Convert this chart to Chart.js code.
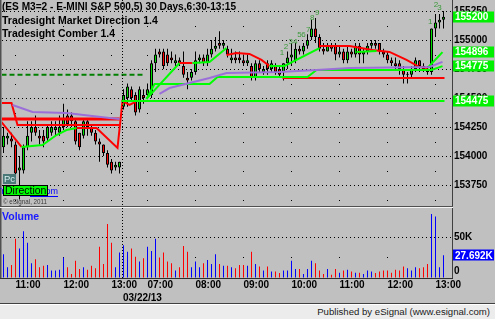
<!DOCTYPE html>
<html>
<head>
<meta charset="utf-8">
<script src="https://cdn.jsdelivr.net/npm/chart.js@4"></script>
<style>
  html, body { margin: 0; padding: 0; background: #c0c0c0; }
  #wrap { position: relative; width: 495px; height: 319px; overflow: hidden; background: #c0c0c0; }
  #price { position: absolute; left: 0; top: 0; }
  #vol { position: absolute; left: 0; top: 208px; }
  .line { position: absolute; left: 0; height: 1px; }
  #status {
    position: absolute; left: 0; top: 305px; width: 495px; height: 14px;
    background: #ececec; color: #222; text-align: right;
    font: 9.6px "Liberation Sans", Arial, sans-serif; line-height: 13px;
  }
  #status span { padding-right: 5px; }
</style>
</head>
<body>
<div id="wrap">
  <canvas id="price" width="495" height="206"></canvas>
  <div class="line" style="top:206px;width:453px;background:#505050"></div>
  <div class="line" style="top:207px;width:453px;background:#f4f4f4"></div>
  <canvas id="vol" width="495" height="95"></canvas>
  <div class="line" style="top:303px;width:495px;background:#404040"></div>
  <div class="line" style="top:304px;width:495px;background:#ffffff"></div>
  <div id="status"><span>Published by eSignal (www.esignal.com)</span></div>
</div>
<script>
// 5 minute bars, index 0 = 10:45 of the previous session, index 30 = 06:30 on 03/22/13
const opens = [
  154075, 154150, 154150, 154100, 153875, 153875, 154075, 154200, 154250, 154175,
  154175, 154150, 154200, 154225, 154200, 154250, 154350, 154350, 154300, 154200,
  154175, 154300, 154250, 154200, 154125, 154100, 154025, 153950, 153900, 153900,
  154425, 154500, 154575, 154525, 154400, 154525, 154525, 154525, 154800, 154900,
  154900, 154875, 154850, 154800, 154825, 154775, 154675, 154675, 154725, 154825,
  154850, 154800, 154875, 154925, 154975, 154950, 154925, 154825, 154850, 154850,
  154825, 154800, 154775, 154675, 154800, 154725, 154800, 154750, 154775, 154750,
  154725, 154800, 154850, 154825, 154925, 154900, 154950, 155025, 155100, 155025,
  154925, 154900, 154950, 154950, 154875, 154900, 154825, 154900, 154875, 154950,
  154875, 154900, 154950, 154975, 154975, 154900, 154875, 154825, 154800, 154800,
  154750, 154700, 154700, 154750, 154825, 154775, 154750, 154725, 155100, 155150,
  155175
];
const highs = [
  154250, 154200, 154200, 154125, 154000, 154100, 154300, 154300, 154350, 154225,
  154225, 154275, 154300, 154300, 154350, 154450, 154400, 154375, 154325, 154200,
  154325, 154325, 154275, 154225, 154150, 154100, 154050, 153975, 153950, 153950,
  154575, 154625, 154600, 154550, 154600, 154575, 154625, 154825, 154925, 154925,
  154925, 154925, 154900, 154875, 154850, 154900, 154725, 154750, 154900, 154875,
  154875, 154925, 155000, 155025, 155075, 155000, 154950, 154925, 154900, 154900,
  154875, 154875, 154800, 154825, 154825, 154775, 154825, 154825, 154800, 154775,
  154800, 154900, 154975, 154975, 154950, 154975, 155050, 155175, 155190, 155050,
  154975, 154975, 154975, 154975, 154950, 154925, 154950, 154925, 154975, 154975,
  154925, 154975, 155000, 155000, 154975, 154925, 154900, 154850, 154850, 154825,
  154775, 154725, 154775, 154850, 154825, 154800, 154775, 155100, 155225, 155225,
  155250
];
const lows = [
  154025, 154100, 154075, 153825, 153625, 153850, 154050, 154125, 154175, 154100,
  154075, 154125, 154175, 154175, 154175, 154225, 154250, 154250, 154100, 154050,
  154150, 154175, 154175, 154100, 153950, 154000, 153900, 153850, 153875, 153850,
  154400, 154425, 154475, 154350, 154375, 154450, 154500, 154500, 154725, 154850,
  154750, 154775, 154800, 154775, 154775, 154675, 154575, 154650, 154700, 154800,
  154775, 154775, 154850, 154900, 154925, 154925, 154850, 154800, 154800, 154800,
  154775, 154775, 154650, 154650, 154725, 154700, 154700, 154725, 154700, 154675,
  154650, 154750, 154775, 154800, 154875, 154875, 154925, 155000, 154975, 154900,
  154875, 154900, 154900, 154825, 154850, 154800, 154800, 154850, 154850, 154800,
  154800, 154875, 154925, 154925, 154875, 154850, 154800, 154775, 154750, 154700,
  154625, 154625, 154675, 154725, 154725, 154725, 154700, 154700, 155025, 155100,
  155100
];
const closes = [
  154175, 154175, 154125, 153850, 153900, 154075, 154175, 154250, 154200, 154150,
  154125, 154250, 154250, 154250, 154250, 154325, 154275, 154300, 154125, 154075,
  154300, 154250, 154200, 154125, 154100, 154025, 153925, 153875, 153925, 153950,
  154525, 154600, 154500, 154375, 154575, 154500, 154575, 154800, 154875, 154875,
  154775, 154800, 154825, 154825, 154800, 154700, 154650, 154725, 154825, 154850,
  154800, 154875, 154925, 154950, 154950, 154975, 154875, 154850, 154825, 154825,
  154800, 154825, 154675, 154800, 154750, 154750, 154750, 154800, 154725, 154700,
  154800, 154850, 154875, 154925, 154900, 154950, 155000, 155100, 155025, 154925,
  154900, 154950, 154925, 154875, 154900, 154825, 154900, 154875, 154950, 154875,
  154900, 154950, 154975, 154950, 154900, 154875, 154825, 154800, 154775, 154750,
  154700, 154700, 154750, 154825, 154775, 154750, 154725, 155100, 155150, 155175,
  155200
];
// volume in thousands
const volumeK = [
  29, 13, 16, 48, 36, 57, 43, 18, 23, 13, 15, 16, 9, 9, 10, 25, 13, 5, 21, 11,
  13, 10, 15, 12, 38, 17, 66, 43, 13, 31, 40, 32, 36, 26, 20, 24, 38, 33, 48, 25,
  31, 20, 18, 9, 13, 39, 32, 13, 20, 13, 18, 22, 17, 29, 17, 15, 15, 13, 12, 16,
  16, 15, 32, 17, 14, 9, 14, 8, 8, 6, 9, 9, 21, 11, 11, 5, 11, 21, 18, 9,
  5, 11, 4, 11, 6.5, 9, 10, 8, 6.5, 6.5, 5, 9, 8, 6, 8, 9, 9, 6.5, 10, 9,
  14, 12, 9, 13, 12, 13, 17, 78, 75, 13, 27.692
];

const priceTicks = [153750, 154000, 154250, 154500, 154750, 155000, 155250];
const volumeTicks = [0, 50];
const hourBars = [3, 15, 27, 36, 48, 60, 72, 84, 96, 108];
const hourLabels = ['11:00', '12:00', '13:00', '07:00', '08:00', '09:00', '10:00', '11:00', '12:00', '13:00'];
const sessionBreak = 29.5;
const sessionDate = '03/22/13';
const priceMarkers = [155200, 154896, 154775, 154475];
const volumeMarker = 27.692;

// Comber count numbers
const countTexts = ['1', '2', '3', '4', '5', '6', '7', '8', '9', '1', '2', '3'];
const countBars = [69.6, 70.6, 71.8, 72.9, 74, 75, 76.2, 77.2, 78.4, 106.7, 108.1, 109];
const countPrices = [154888, 154940, 154983, 154983, 155043, 155043, 155086, 155190, 155233, 155155, 155302, 155276];

// study lines: [bar, price], null price = gap
const heavyRed = [[-0.5, 154319], [29, 154319]];
const redUpper = [
  [-0.5, 154457], [2, 154457], [3.5, 154267], [29, 154267], [29, null],
  [43.9, 154802], [47.25, 154802], [47.3, null],
  [55.75, 154871], [58.25, 154888], [61.5, 154880], [64.5, 154828], [66.5, 154776], [66.6, null],
  [79, 154948], [86.5, 154948], [92.25, 154914], [96.5, 154897], [100.75, 154828], [104, 154767], [106, 154759]
];
const redLower = [
  [-0.5, 154293], [4.5, 154078], [4.6, null],
  [18.25, 154241], [23.25, 154241], [28.5, 154069], [29.75, 154474], [31.5, 154440], [33, 154466], [33.1, null],
  [69.75, 154673], [110.25, 154673]
];
const greenTrail = [
  [4.5, 154078], [9.75, 154095], [13.25, 154181], [15.75, 154224], [18.25, 154241], [18.3, null],
  [35.75, 154492], [44, 154802], [44.1, null],
  [47.25, 154802], [51.5, 154811], [55.75, 154931], [55.8, null],
  [66.5, 154776], [70.25, 154776], [79, 154931], [79.1, null],
  [88.25, 154897], [93.25, 154905], [93.3, null],
  [106, 154759], [109.75, 154896]
];
const greenStep = [
  [35.75, 154492], [37.75, 154621], [51.5, 154621], [53.5, 154681], [76, 154681],
  [78.25, 154742], [107, 154742], [109.75, 154775]
];
const greenLevel = [[29.5, 154475], [110.25, 154475]];
const purpleAvg = [
  [2.25, 154440], [7.25, 154380], [15.75, 154371], [26.5, 154328], [29, 154319], [29.1, null],
  [39, 154535], [41.5, 154586], [51.5, 154673], [55.75, 154716], [69, 154724], [78.25, 154742],
  [86.5, 154759], [106.5, 154767], [109.75, 154811]
];
const dashedGreen = [[-0.5, 154700], [35.25, 154700]];

const FONT = '"Liberation Sans", Arial, sans-serif';
const UP = '#00e000';
const DOWN = '#ff0000';

const pts = (list) => list.map((p) => ({ x: p[0], y: p[1] }));
const isUp = (i) => closes[i] >= opens[i];

function xAxis(h, dash, dashOffset) {
  return {
    type: 'linear', min: -0.375, max: 112.125, offset: false,
    grid: { display: true, drawTicks: false, color: '#000', offset: false },
    border: { display: false, dash, dashOffset },
    ticks: { display: false },
    afterBuildTicks: (s) => { s.ticks = hourBars.map((v) => ({ value: v })); },
    afterFit: (s) => { s.height = h; },
  };
}

function yAxis(min, max, ticks) {
  return {
    position: 'right', min, max,
    grid: { color: '#000', drawTicks: false },
    border: { display: false, dash: [1, 3] },
    ticks: { display: false },
    afterBuildTicks: (s) => { s.ticks = ticks.map((v) => ({ value: v })); },
    afterFit: (s) => { s.width = 43; },
  };
}

function lineSet(data, color, width, dash) {
  return {
    type: 'line', data: pts(data), borderColor: color, borderWidth: width,
    borderDash: dash || [], pointRadius: 0, spanGaps: false, tension: 0, order: 0,
  };
}

function drawFrame(ctx, area) {
  ctx.save();
  ctx.fillStyle = '#505050';
  ctx.fillRect(0, 0, 1, area.bottom);
  ctx.fillStyle = '#888';
  ctx.fillRect(1, 0, 1, area.bottom);
  ctx.fillStyle = '#404040';
  ctx.fillRect(452, 0, 1, area.bottom + 1);
  ctx.restore();
}

function drawBreak(ctx, chart) {
  const x = Math.round(chart.scales.x.getPixelForValue(sessionBreak)) + 0.5;
  ctx.save();
  ctx.strokeStyle = '#000';
  ctx.setLineDash([1, 2]);
  ctx.beginPath();
  ctx.moveTo(x, chart.chartArea.top);
  ctx.lineTo(x, chart.chartArea.bottom);
  ctx.stroke();
  ctx.restore();
}

function markerBox(ctx, y, text, fill) {
  ctx.fillStyle = fill;
  ctx.fillRect(453, Math.round(y) - 5.5, 41, 11);
  ctx.fillStyle = '#fff';
  ctx.fillText(text, 455, y + 0.5);
}

const pricePlugin = {
  id: 'pricePane',
  afterDraw(chart) {
    const { ctx, chartArea } = chart;
    const ys = chart.scales.y;
    const xs = chart.scales.x;
    drawBreak(ctx, chart);
    drawFrame(ctx, chartArea);

    ctx.save();
    ctx.textBaseline = 'middle';
    ctx.font = 'bold 10px ' + FONT;
    ctx.fillStyle = '#000';
    ys.ticks.forEach((t) => ctx.fillText(String(t.value), 454, ys.getPixelForValue(t.value) + 0.5));
    priceMarkers.forEach((v) => markerBox(ctx, ys.getPixelForValue(v), String(v), '#00f000'));

    // Comber counts
    ctx.font = '8px ' + FONT;
    ctx.fillStyle = '#3a9a3a';
    ctx.textAlign = 'center';
    countTexts.forEach((s, k) => {
      ctx.fillText(s, xs.getPixelForValue(countBars[k]), ys.getPixelForValue(countPrices[k]));
    });

    // headers
    ctx.textAlign = 'left';
    ctx.fillStyle = '#000';
    ctx.font = 'bold 10.5px ' + FONT;
    ctx.fillText('(ES M3=2 - E-MINI S&P 500,5) 30 Days,6:30-13:15', 2, 7, 234);
    ctx.fillText('Tradesight Market Direction 1.4', 2, 21, 156);
    ctx.fillText('Tradesight Comber 1.4', 2, 34, 113);

    // study tags bottom left
    ctx.font = '9px ' + FONT;
    ctx.fillStyle = '#0000ff';
    ctx.textAlign = 'right';
    ctx.fillText('Tradesight.com', 58, 192);
    ctx.fillRect(30, 196, 28, 1);
    ctx.textAlign = 'left';
    ctx.fillStyle = '#4a7878';
    ctx.fillRect(3, 174, 13, 10);
    ctx.fillStyle = '#d8f0f0';
    ctx.font = '9.5px ' + FONT;
    ctx.fillText('Pc', 4, 179.5);
    ctx.fillStyle = '#00ff00';
    ctx.fillRect(3, 185, 45, 11);
    ctx.strokeStyle = '#000';
    ctx.lineWidth = 1;
    ctx.strokeRect(3.5, 185.5, 44, 10);
    ctx.fillStyle = '#000';
    ctx.font = '10.5px ' + FONT;
    ctx.fillText('Direction', 5, 191, 42);
    ctx.font = '7px ' + FONT;
    ctx.fillStyle = '#3a3a3a';
    ctx.fillText('\u00a9 eSignal, 2011', 3, 202.5, 44);
    ctx.restore();
  },
};

const volumePlugin = {
  id: 'volumePane',
  afterDraw(chart) {
    const { ctx, chartArea } = chart;
    const ys = chart.scales.y;
    const xs = chart.scales.x;
    drawBreak(ctx, chart);
    drawFrame(ctx, chartArea);

    ctx.save();
    ctx.fillStyle = '#303030';
    ctx.fillRect(0, Math.round(chartArea.bottom), 453, 1);

    ctx.textBaseline = 'middle';
    ctx.font = 'bold 10px ' + FONT;
    ctx.fillStyle = '#000';
    ys.ticks.forEach((t) => {
      const y = t.value === 0 ? ys.getPixelForValue(0) - 7 : ys.getPixelForValue(t.value) + 0.5;
      ctx.fillText(t.value === 0 ? '0' : t.value + 'K', 454, y);
    });
    markerBox(ctx, ys.getPixelForValue(volumeMarker), volumeMarker.toFixed(3) + 'K', '#0000ff');

    ctx.fillStyle = '#000';
    xs.ticks.forEach((t, k) => ctx.fillText(hourLabels[k], xs.getPixelForValue(t.value), 77.5));
    ctx.fillText(sessionDate, Math.round(xs.getPixelForValue(sessionBreak)) + 1, 90.5);

    ctx.font = 'bold 10.5px ' + FONT;
    ctx.fillStyle = '#1a1aff';
    ctx.fillText('Volume', 2, 9.5);
    ctx.restore();
  },
};

const bars = opens.map((_, i) => i);

new Chart(document.getElementById('price'), {
  type: 'bar',
  data: {
    datasets: [
      lineSet(dashedGreen, '#008000', 2, [5, 3]),
      lineSet(greenLevel, '#00ff00', 2),
      lineSet(purpleAvg, '#9b6fd8', 2),
      lineSet(greenStep, '#00ff00', 2),
      lineSet(greenTrail, '#00ff00', 2),
      lineSet(redLower, '#ff0000', 2),
      lineSet(redUpper, '#ff0000', 2),
      lineSet(heavyRed, '#ff0000', 3),
      {
        type: 'bar', order: 2, grouped: false,
        data: bars.map((i) => ({ x: i, y: [lows[i], highs[i]] })),
        backgroundColor: '#000', barThickness: 1, borderWidth: 0, inflateAmount: 0,
      },
      {
        type: 'bar', order: 1, grouped: false,
        data: bars.map((i) => ({ x: i, y: [opens[i], closes[i]] })),
        backgroundColor: bars.map((i) => (isUp(i) ? UP : DOWN)),
        borderColor: '#000', borderWidth: 1, borderSkipped: false,
        barThickness: 3, minBarLength: 1, inflateAmount: 0,
      },
    ],
  },
  options: {
    responsive: false, animation: false, events: [], devicePixelRatio: 1,
    layout: { padding: { left: 2, right: 0, top: 0, bottom: 0 } },
    plugins: { legend: { display: false }, tooltip: { enabled: false } },
    scales: {
      x: xAxis(0, [1, 28], 3),
      y: yAxis(153569, 155345, priceTicks),
    },
  },
  plugins: [pricePlugin],
});

new Chart(document.getElementById('vol'), {
  type: 'bar',
  data: {
    datasets: [{
      grouped: false,
      data: bars.map((i) => ({ x: i, y: volumeK[i] })),
      backgroundColor: bars.map((i) => (isUp(i) ? '#0000ff' : '#ff0000')),
      barThickness: 1, borderWidth: 0, inflateAmount: 0,
    }],
  },
  options: {
    responsive: false, animation: false, events: [], devicePixelRatio: 1,
    layout: { padding: { left: 2, right: 0, top: 0, bottom: 0 } },
    plugins: { legend: { display: false }, tooltip: { enabled: false } },
    scales: {
      x: xAxis(25, [1, 60], 12),
      y: yAxis(0, 85.4, volumeTicks),
    },
  },
  plugins: [volumePlugin],
});
</script>
</body>
</html>
